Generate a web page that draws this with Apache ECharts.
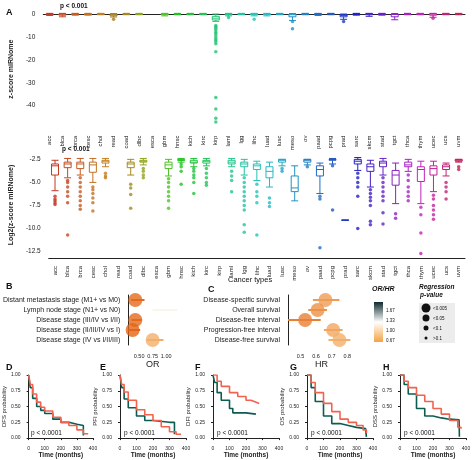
<!DOCTYPE html>
<html><head><meta charset="utf-8">
<script src="https://cdn.jsdelivr.net/npm/echarts@6/dist/echarts.min.js"></script>
<style>html,body{margin:0;background:#fff}#main{width:474px;height:460px}</style>
</head><body><div id="main"></div>
<script>
const cancers = ['acc','blca','brca','cesc','chol','read','coad','dlbc','esca','gbm','hnsc','kich','kirc','kirp','laml','lgg','lihc','luad','lusc','meso','ov','paad','pcpg','prad','sarc','skcm','stad','tgct','thca','thym','ucec','ucs','uvm'];

// panel A: z-score miRNome [min,q1,median,q3,max]
const zBox = {
  acc:[-0.6,-0.3,0,0.1,0.3], blca:[-1.2,-0.5,-0.1,0.1,0.3], brca:[-0.5,-0.2,0,0.1,0.3], cesc:[-0.5,-0.2,0,0.1,0.3],
  chol:[-0.3,-0.1,0,0.1,0.3], read:[-1.3,-0.8,-0.4,-0.1,0.2], coad:[-0.3,-0.1,0,0.1,0.3], dlbc:[-0.3,-0.1,0,0.1,0.3],
  gbm:[-0.8,-0.3,0,0.1,0.3], hnsc:[-0.3,-0.1,0,0.1,0.3], kich:[-0.3,-0.1,0,0.1,0.3], kirc:[-0.3,-0.1,0,0.1,0.3],
  kirp:[-3.2,-2.6,-1.8,-1.0,0], laml:[-0.8,-0.3,0,0.1,0.3], lgg:[-0.3,-0.1,0,0.1,0.3], lihc:[-0.8,-0.3,0,0.1,0.3],
  luad:[-0.8,-0.3,0,0.1,0.3], lusc:[-0.3,-0.1,0,0.1,0.3], meso:[-2.8,-1.2,-0.3,0,0.2], ov:[-0.3,-0.1,0,0.1,0.3],
  paad:[-0.6,-0.2,0,0.1,0.3], pcpg:[-0.3,-0.1,0,0.1,0.3], prad:[-2.3,-1.2,-0.6,-0.2,0], sarc:[-0.5,-0.2,0,0.1,0.3],
  skcm:[-1,-0.3,0,0.1,0.3], stad:[-0.5,-0.2,0,0.1,0.3], tgct:[-2.5,-1.2,-0.2,0,0.2], thca:[-0.3,-0.1,0,0.1,0.3],
  thym:[-0.3,-0.1,0,0.1,0.3], ucec:[-1.4,-0.5,0,0.1,0.3], ucs:[-0.3,-0.1,0,0.1,0.3], uvm:[-0.3,-0.1,0,0.1,0.3]
};
const zOut = {
  read:[-2.3], kirp:[-5,-5.6,-6.2,-7,-7.8,-8.5,-9.5,-10.5,-11.2,-12,-13,-16.5,-36.5,-41.5,-45.5,-47.2],
  laml:[-1.5], lihc:[-2.3], meso:[-3.3,-6.4], prad:[-3.3], ucec:[-1.8]
};

// panel A lower: log2(z-score miRNome)
const lBox = {
  acc:[-5.9,-4.2,-3.2,-3.0,-2.6], blca:[-4.5,-3.4,-3.0,-2.8,-2.4], brca:[-4.2,-3.5,-3.0,-2.8,-2.4], cesc:[-5.0,-3.9,-3.1,-2.8,-2.4],
  chol:[-3.3,-2.9,-2.7,-2.6,-2.4], coad:[-4.2,-3.4,-3.0,-2.8,-2.5], dlbc:[-3.1,-2.8,-2.7,-2.6,-2.4], gbm:[-4.3,-3.5,-3.1,-2.8,-2.5],
  hnsc:[-2.8,-2.6,-2.6,-2.5,-2.4], kich:[-3.3,-2.9,-2.8,-2.6,-2.4], kirc:[-3.2,-2.9,-2.7,-2.6,-2.4], laml:[-3.3,-3.0,-2.8,-2.6,-2.4],
  lgg:[-4.2,-3.3,-3.0,-2.8,-2.5], lihc:[-4.8,-3.6,-3.2,-3.0,-2.7], luad:[-5.5,-4.5,-3.8,-3.3,-2.8], lusc:[-3.2,-2.8,-2.6,-2.5,-2.5],
  meso:[-7.0,-6.0,-5.6,-4.3,-3.2], ov:[-3.1,-2.8,-2.6,-2.5,-2.5], paad:[-6.2,-4.3,-3.6,-3.2,-2.9], pcpg:[-3.0,-2.6,-2.5,-2.5,-2.4],
  prad:[-9.1,-9.1,-9.1,-9.1,-9.1], sarc:[-3.7,-3.0,-2.7,-2.5,-2.3], skcm:[-5.5,-3.8,-3.3,-3.0,-2.6], stad:[-4.2,-3.3,-2.9,-2.7,-2.4],
  tgct:[-7.3,-5.3,-4.2,-3.7,-2.9], thca:[-3.8,-3.3,-3.1,-2.8,-2.5], thym:[-7.3,-4.9,-3.6,-3.3,-2.7], ucec:[-6.0,-4.2,-3.5,-3.2,-2.7],
  ucs:[-4.3,-3.6,-3.3,-3.1,-2.9], uvm:[-2.8,-2.7,-2.6,-2.5,-2.5]
};
const lOut = {
  acc:[-6.5,-6.8,-7,-7.2,-7.4], blca:[-4.8,-5,-5.5,-6,-6.5,-7.2,-10.7], brca:[-4.5,-5,-5.5,-6,-6.5,-7,-7.5,-7.9],
  cesc:[-5.5,-5.8,-6.2,-6.7,-7.2,-8.1], chol:[-4,-4.3,-4.5], coad:[-5.2,-5.6,-6.3,-7.8], dlbc:[-3.5,-3.8,-4.2,-4.5],
  gbm:[-4.6,-5,-5.5,-6,-6.5,-7,-7.8], hnsc:[-3,-3.3,-3.8,-5.2], kich:[-3.5,-3.8,-4.2,-4.5,-5,-6.2], kirc:[-3.5,-4,-4.5,-5,-5.3],
  laml:[-3.8,-4.3,-4.8,-6], lgg:[-4.5,-5,-5.5,-6,-6.5,-7,-7.5,-8,-9.6,-10.4], lihc:[-5.2,-6,-6.5,-7.2,-10.7],
  luad:[-6.7,-7.2,-7.6], lusc:[-3.5,-3.8], ov:[-3.3], paad:[-6.5,-6.8,-12.1], pcpg:[-3.2,-8],
  sarc:[-4,-4.5,-5,-5.5,-6.5,-10], skcm:[-5.8,-6.2,-6.6,-7,-7.5,-9.2,-9.6], stad:[-4.5,-5,-5.5,-6,-6.5,-7,-8.3,-9.5],
  tgct:[-8.4,-8.9], thca:[-4.2,-4.8,-5.5,-6,-6.5,-7], thym:[-7.7,-8.5,-10.5,-12.7], ucec:[-6.4,-6.8,-7.5,-8,-8.5,-9],
  ucs:[-5,-5.5,-6,-6.8], uvm:[-3.3,-3.6]
};

// panel B / C forest plots: [estimate, low, high]
const orLabels = ['Distant metastasis stage (M1+ vs M0)','Lymph node stage (N1+ vs N0)','Disease stage (III/IV vs I/II)','Disease stage (II/III/IV vs I)','Disease stage (IV vs I/II/III)'];
const orVals = [[0.43,0.35,0.6],[null,0.75,1.2],[0.43,0.36,0.55],[0.38,0.3,0.52],[0.75,0.64,0.95]];
const hrLabels = ['Disease-specific survival','Overall survival','Disease-free interval','Progression-free interval','Disease-free survival'];
const hrVals = [[0.66,0.58,0.75],[0.61,0.55,0.67],[0.53,0.42,0.63],[0.71,0.65,0.77],[0.75,0.68,0.82]];

// panels D-H Kaplan-Meier curves [months, probability]
const kmPanels = ['DFS','PFI','DFI','OS','DSS'];
const kmRed = [
  [[0,1],[10,0.85],[25,0.7],[50,0.57],[75,0.49],[100,0.43],[150,0.33],[200,0.25],[250,0.2],[300,0.13],[340,0.07],[370,0.06]],
  [[0,1],[10,0.85],[25,0.73],[50,0.6],[100,0.45],[150,0.37],[200,0.28],[250,0.18],[300,0.1],[340,0.06],[370,0.06]],
  [[0,1],[25,0.9],[50,0.82],[100,0.72],[150,0.66],[200,0.6],[230,0.58],[250,0.55],[280,0.55]],
  [[0,1],[25,0.88],[50,0.72],[100,0.55],[150,0.42],[200,0.3],[250,0.25],[300,0.2],[340,0.13],[360,0.08]],
  [[0,1],[25,0.9],[50,0.8],[100,0.68],[150,0.58],[200,0.47],[250,0.38],[300,0.28],[350,0.17],[370,0.15]]
];
const kmTeal = [
  [[0,1],[10,0.8],[25,0.63],[50,0.5],[75,0.44],[100,0.39],[150,0.3],[200,0.25],[250,0.22],[300,0.2],[340,0.04]],
  [[0,1],[10,0.8],[25,0.62],[50,0.48],[100,0.35],[150,0.28],[200,0.25],[300,0.25],[330,0.06]],
  [[0,1],[10,0.88],[25,0.72],[50,0.6],[100,0.47],[120,0.4],[150,0.4],[200,0.38],[260,0.38]],
  [[0,1],[25,0.8],[50,0.58],[100,0.35],[150,0.23],[200,0.2],[250,0.17],[300,0.15],[355,0.15],[360,0.02]],
  [[0,1],[25,0.85],[50,0.7],[100,0.47],[150,0.35],[200,0.32],[250,0.3],[300,0.29],[358,0.29],[360,0.02]]
];

// ggplot-like hue ramp; skip the bright yellow band
const hueStops = [8, 22, 35, 48, 90, 120, 140, 160, 175, 190, 205, 220, 240, 265, 290, 315, 340];
const hue = i => {
  const t = i / (cancers.length - 1) * (hueStops.length - 1), k = Math.min(hueStops.length - 2, Math.floor(t));
  const h = hueStops[k] + (hueStops[k + 1] - hueStops[k]) * (t - k);
  return 'hsl(' + Math.round(h) + ',70%,' + (h > 40 && h < 80 ? 38 : 45) + '%)';
};
const orangeFor = v => {
  const t = Math.max(0, Math.min(1, (v - 0.4) / 0.45));
  const a = [226, 100, 20], b = [248, 196, 130];
  return 'rgb(' + a.map((x, k) => Math.round(x + (b[k] - x) * t)).join(',') + ')';
};
const font = 'Liberation Sans';
const axisBase = {axisLine: {lineStyle: {color: '#222'}}, axisTick: {lineStyle: {color: '#222'}, length: 2},
  splitLine: {show: false}, axisLabel: {color: '#222', fontSize: 6, fontFamily: font}};

const grids = [], xAxes = [], yAxes = [], series = [];
function addGrid(g, x, y) { grids.push(g); xAxes.push(Object.assign({gridIndex: grids.length - 1}, x)); yAxes.push(Object.assign({gridIndex: grids.length - 1}, y)); return grids.length - 1; }

function boxPanel(box, out, top, height, ymin, ymax, ticks, name, fmt) {
  const gi = addGrid({left: 32, top: top, width: 433, height: height},
    Object.assign({}, axisBase, {type: 'category', data: cancers, axisLabel: Object.assign({}, axisBase.axisLabel, {rotate: 90, interval: 0})}),
    Object.assign({}, axisBase, {type: 'value', min: ymin, max: ymax, name: name, nameLocation: 'middle', nameGap: 18,
      nameTextStyle: {fontSize: 7, fontWeight: 'bold', fontFamily: font},
      axisTick: {customValues: ticks, length: 2}, axisLabel: Object.assign({}, axisBase.axisLabel, {customValues: ticks, fontSize: 6.5, formatter: fmt})}));
  series.push({type: 'boxplot', xAxisIndex: gi, yAxisIndex: gi, boxWidth: [3, 7],
    data: cancers.map((c, i) => box[c] ? {value: box[c], itemStyle: {color: '#fff', borderColor: hue(i), borderWidth: 1}} : '-')});
  const pts = [];
  cancers.forEach((c, i) => (out[c] || []).forEach(v => pts.push({value: [c, v], itemStyle: {color: hue(i)}})));
  series.push({type: 'scatter', xAxisIndex: gi, yAxisIndex: gi, symbolSize: 3.5, data: pts});
}
boxPanel(zBox, zOut, 10.6, 117, -49.6, 1.5, [0, -10, -20, -30, -40], 'z-score miRNome', v => String(v));
boxPanel(lBox, lOut, 152, 106, -13.2, -1.7, [-2.5, -5, -7.5, -10, -12.5], 'Log2(z-score miRNome)', v => v.toFixed(1));

function forest(labels, vals, left, width, xmin, xmax, ticks, name, fmt) {
  const gi = addGrid({left: left, top: 295, width: width, height: 50},
    Object.assign({}, axisBase, {type: 'value', min: xmin, max: xmax, name: name, nameLocation: 'middle', nameGap: 14,
      nameTextStyle: {fontSize: 9, fontFamily: font, color: '#222'},
      axisTick: {customValues: ticks, length: 2}, axisLabel: Object.assign({}, axisBase.axisLabel, {customValues: ticks, fontSize: 5.5, formatter: fmt})}),
    Object.assign({}, axisBase, {type: 'category', data: labels, inverse: true, axisLabel: Object.assign({}, axisBase.axisLabel, {fontSize: 7, interval: 0})}));
  series.push({type: 'custom', xAxisIndex: gi, yAxisIndex: gi, data: vals.map((v, i) => [i, v[1], v[2], v[0] == null ? 1 : v[0]]),
    renderItem: (p, api) => {
      const a = api.coord([api.value(1), api.value(0)]), b = api.coord([api.value(2), api.value(0)]);
      const solid = vals[api.value(0)][0] != null;
      return {type: 'line', shape: {x1: a[0], y1: a[1], x2: b[0], y2: b[1]},
        style: {stroke: solid ? orangeFor(api.value(3)) : '#f6ead8', lineWidth: solid ? 2 : 1}};
    }});
  series.push({type: 'scatter', xAxisIndex: gi, yAxisIndex: gi, symbolSize: 14,
    data: vals.map((v, i) => v[0] == null ? null : {value: [v[0], i], itemStyle: {color: orangeFor(v[0])}}).filter(Boolean)});
}
forest(orLabels, orVals, 115, 62, 0.3, 1.2, [0.5, 0.75, 1.0], 'OR', v => v.toFixed(2));
forest(hrLabels, hrVals, 288, 67, 0.42, 0.85, [0.5, 0.6, 0.7, 0.8], 'HR', v => v.toFixed(1));

const kmLeft = [27, 120, 213, 307, 400];
kmPanels.forEach((nm, k) => {
  const gi = addGrid({left: kmLeft[k], top: 375, width: 66, height: 64},
    Object.assign({}, axisBase, {type: 'value', min: 0, max: 400, interval: 100, name: 'Time (months)', nameLocation: 'middle', nameGap: 11,
      nameTextStyle: {fontSize: 6.5, fontWeight: 'bold', fontFamily: font}, axisLabel: Object.assign({}, axisBase.axisLabel, {fontSize: 5})}),
    Object.assign({}, axisBase, {type: 'value', min: 0, max: 1, interval: 0.25, name: nm + ' probability', nameLocation: 'middle', nameGap: 16,
      nameTextStyle: {fontSize: 6, fontFamily: font}, axisLabel: Object.assign({}, axisBase.axisLabel, {fontSize: 5, formatter: v => v.toFixed(2)})}));
  series.push({type: 'line', step: 'end', xAxisIndex: gi, yAxisIndex: gi, data: kmTeal[k], showSymbol: false, lineStyle: {color: '#0d5c50', width: 1.6}});
  series.push({type: 'line', step: 'end', xAxisIndex: gi, yAxisIndex: gi, data: kmRed[k], showSymbol: false, lineStyle: {color: '#f2634f', width: 1.6}});
});

const txt = (x, y, s, o) => ({type: 'text', x: x, y: y, style: Object.assign({text: s, fontSize: 9, fontWeight: 'bold', fontFamily: font, fill: '#111'}, o || {})});
const graphic = [
  txt(6, 8, 'A'), txt(6, 282, 'B'), txt(208, 285, 'C'),
  txt(6, 363, 'D'), txt(100, 363, 'E'), txt(195, 363, 'F'), txt(290, 363, 'G'), txt(383, 363, 'H'),
  txt(60, 3, 'p < 0.001', {fontSize: 6.5}), txt(62, 146, 'p < 0.001', {fontSize: 6.5}),
  txt(228, 276, 'Cancer types', {fontSize: 7.5, fontWeight: 'normal'}),
  txt(372, 286, 'OR/HR', {fontSize: 7, fontStyle: 'italic', textDecoration: 'underline'}),
  {type: 'rect', shape: {x: 374, y: 302, width: 9, height: 40},
    style: {fill: new echarts.graphic.LinearGradient(0, 0, 0, 1, [{offset: 0, color: '#0e2a30'}, {offset: 0.5, color: '#ffffff'}, {offset: 1, color: '#f5a342'}])}},
  txt(386, 308, '1.67', {fontSize: 4.5, fontWeight: 'normal'}), txt(386, 318, '1.33', {fontSize: 4.5, fontWeight: 'normal'}),
  txt(386, 328, '1.00', {fontSize: 4.5, fontWeight: 'normal'}), txt(386, 338, '0.67', {fontSize: 4.5, fontWeight: 'normal'}),
  txt(419, 284, 'Regression', {fontSize: 6.5, fontStyle: 'italic'}), txt(420, 292, 'p-value', {fontSize: 6.5, fontStyle: 'italic'}),
  {type: 'rect', shape: {x: 419, y: 303, width: 36, height: 40}, style: {fill: '#ececec'}}
];
[['<0.005', 4.5], ['<0.05', 3.5], ['<0.1', 2.5], ['>0.1', 1.5]].forEach((p, i) => {
  graphic.push({type: 'circle', shape: {cx: 426, cy: 308 + i * 10, r: p[1]}, style: {fill: '#111'}});
  graphic.push(txt(433, 306 + i * 10, p[0], {fontSize: 4.5, fontWeight: 'normal'}));
});
kmLeft.forEach(l => graphic.push(txt(l + 4, 430, 'p < 0.0001', {fontSize: 6.5, fontWeight: 'normal'})));

const myChart = echarts.init(document.getElementById('main'));
myChart.setOption({animation: false, grid: grids, xAxis: xAxes, yAxis: yAxes, series: series, graphic: graphic});
</script></body></html>
